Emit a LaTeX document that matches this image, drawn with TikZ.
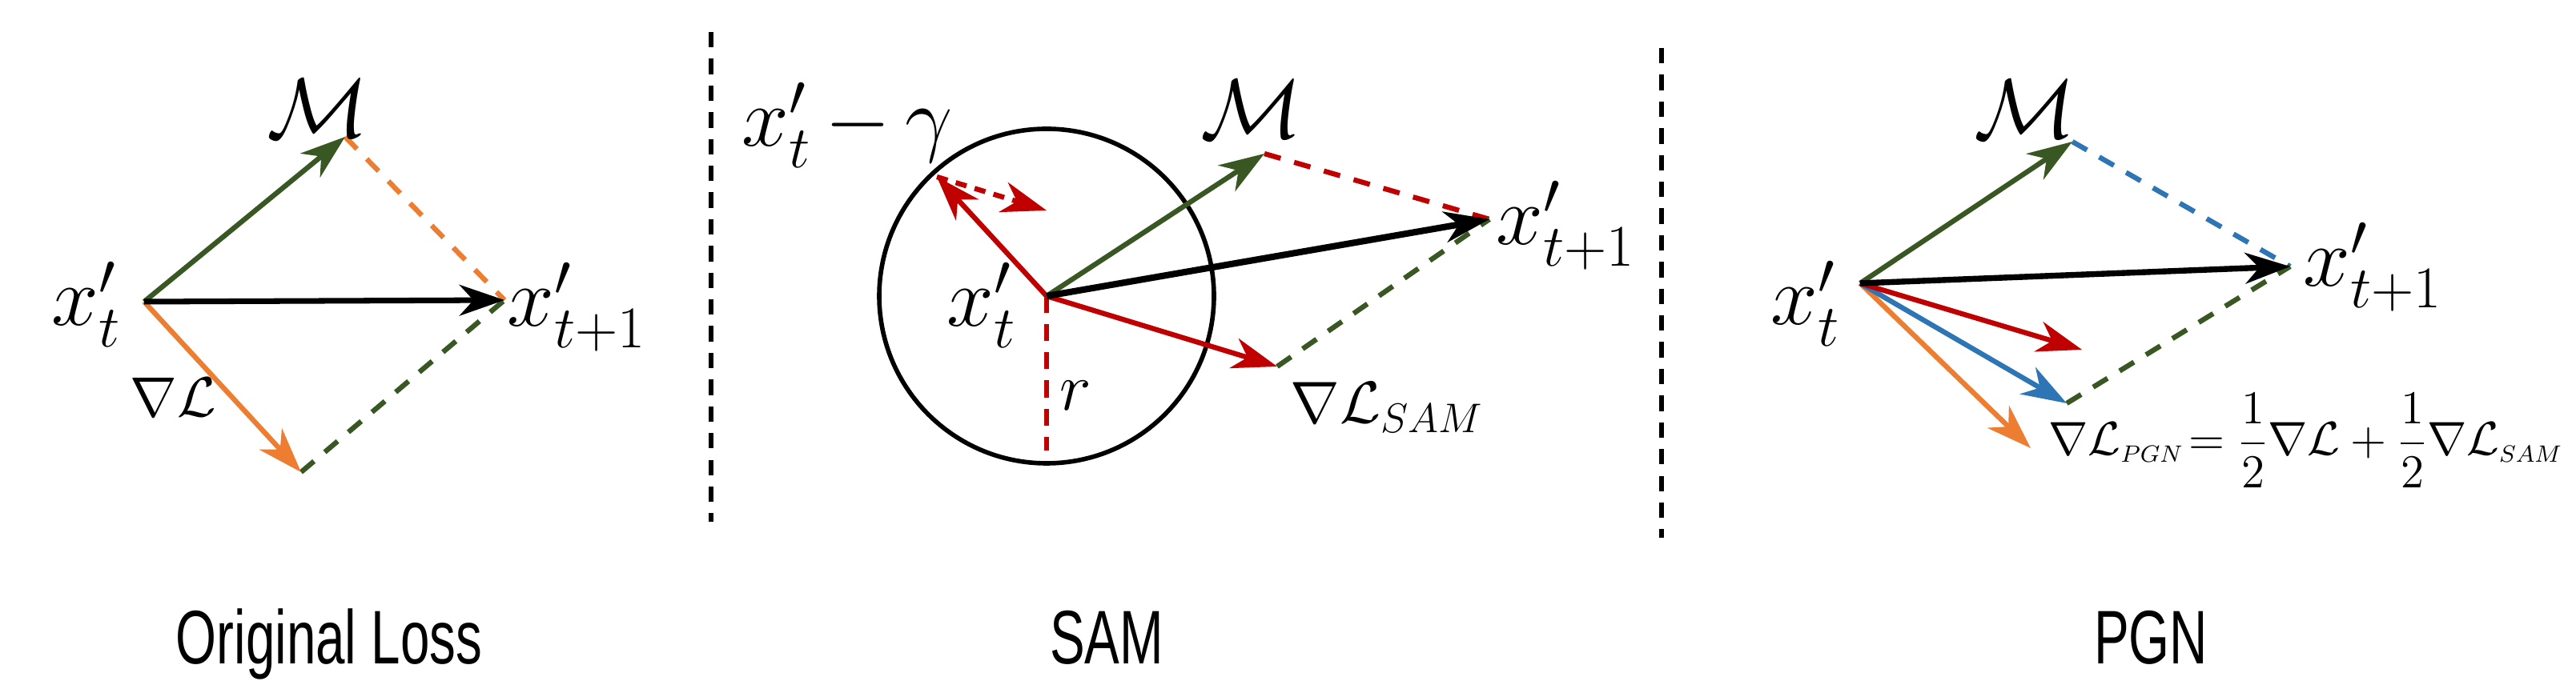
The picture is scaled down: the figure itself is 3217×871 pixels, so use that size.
\RequirePackage{fix-cm}
\documentclass[tikz,border=0pt]{standalone}
\usepackage{amsmath}
\usepackage{fontspec}
\newfontfamily\handfont{Liberation Sans}
\usetikzlibrary{arrows.meta}
\definecolor{vgreen}{HTML}{385723}
\definecolor{vorange}{HTML}{ED7D31}
\definecolor{vred}{HTML}{C00000}
\definecolor{vblue}{HTML}{2E75B6}
\tikzset{
  vec/.style={line width=1.8pt, -{Stealth[length=16pt,width=11pt,inset=5pt]}},
  guide/.style={line width=1.8pt, dash pattern=on 6pt off 5pt},
  divider/.style={line width=1.9pt, dash pattern=on 5.5pt off 4pt},
  lbl/.style={inner sep=0pt, anchor=base west, font=\fontsize{30}{36}\selectfont},
  paneltitle/.style={inner sep=0pt, anchor=base, font=\fontsize{27}{30}\selectfont\handfont},
}
\begin{document}
\begin{tikzpicture}[x=0.01cm,y=-0.01cm]
    \useasboundingbox (0,0) rectangle (3217,871);

    % original loss
    \coordinate (o1) at (180,377);
    \coordinate (m1) at (431,171);
    \coordinate (n1) at (630,375);
    \coordinate (g1) at (376,590);
    \draw[guide, vorange] (m1) -- (n1);
    \draw[guide, vgreen] (g1) -- (n1);
    \draw[vec, vorange] (o1) -- (g1);
    \draw[vec, vgreen] (o1) -- (m1);
    \draw[vec, line width=2pt] (o1) -- (n1);
    \node[lbl] (xa) at (64,407) {$x'_t$};
    \node[lbl] (ma) at (333,172) {$\mathcal{M}$};
    \node[lbl] (na) at (633,408) {$x'_{t+1}$};
    \node[lbl, font=\fontsize{20}{24}\selectfont] (ga) at (162,521) {$\nabla\mathcal{L}$};

    % SAM
    \coordinate (o2) at (1307,370);
    \coordinate (q2) at (1170,221);
    \coordinate (d2) at (1307,263);
    \coordinate (m2) at (1579,192);
    \coordinate (n2) at (1860,274);
    \coordinate (s2) at (1595,458);
    \coordinate (b2) at (1307,563);
    \draw[line width=1.6pt] (o2) circle[radius=209];
    \draw[line width=1.6pt, vred, dash pattern=on 6pt off 4pt] (o2) -- (b2);
    \draw[guide, vred] (m2) -- (n2);
    \draw[guide, vgreen] (s2) -- (n2);
    \draw[vec, vred] (o2) -- (q2);
    \draw[vec, vred, dash pattern=on 4pt off 3pt] (q2) -- (d2);
    \draw[vec, vred] (o2) -- (s2);
    \draw[vec, vgreen] (o2) -- (m2);
    \draw[vec, line width=2.3pt] (o2) -- (n2);
    \node[lbl] (xb) at (1182,408) {$x'_t$};
    \node[lbl] (qb) at (926,183) {$x'_t\,{-}\,\gamma$};
    \node[lbl] (mb) at (1499,173) {$\mathcal{M}$};
    \node[lbl] (nb) at (1868,306) {$x'_{t+1}$};
    \node[lbl, font=\fontsize{21}{25}\selectfont] (sb) at (1611,529) {$\nabla\mathcal{L}_{SAM}$};
    \node[lbl, font=\fontsize{24}{28}\selectfont] (rb) at (1323,513) {$r$};

    % PGN
    \coordinate (o3) at (2323,354);
    \coordinate (m3) at (2588,177);
    \coordinate (n3) at (2860,333);
    \coordinate (r3) at (2600,437);
    \coordinate (b3) at (2581,504);
    \coordinate (g3) at (2536,560);
    \draw[guide, vblue] (m3) -- (n3);
    \draw[guide, vgreen] (b3) -- (n3);
    \draw[vec, vorange] (o3) -- (g3);
    \draw[vec, vblue] (o3) -- (b3);
    \draw[vec, vred] (o3) -- (r3);
    \draw[vec, vgreen] (o3) -- (m3);
    \draw[vec, line width=2.1pt] (o3) -- (n3);
    \node[lbl] (xc) at (2211,406) {$x'_t$};
    \node[lbl] (mc) at (2465,173) {$\mathcal{M}$};
    \node[lbl] (nc) at (2876,358) {$x'_{t+1}$};
    \node[lbl, font=\fontsize{16.8}{20}\selectfont] (fc) at (2558,569)
        {$\nabla\mathcal{L}_{\scriptscriptstyle PGN}\!=\dfrac{1}{2}\nabla\mathcal{L}+\dfrac{1}{2}\nabla\mathcal{L}_{\scriptscriptstyle SAM}$};

    % delici cary
    \coordinate (t1) at (888,40);
    \coordinate (e1) at (888,652);
    \coordinate (t2) at (2075,60);
    \coordinate (e2) at (2075,672);
    \draw[divider] (t1) -- (e1);
    \draw[divider] (t2) -- (e2);

    % popisky
    \node[paneltitle] (ta) at (411,830) {\scalebox{0.69}[1]{Original Loss}};
    \node[paneltitle] (tb) at (1382,830) {\scalebox{0.69}[1]{SAM}};
    \node[paneltitle] (tc) at (2686,830) {\scalebox{0.69}[1]{PGN}};
\end{tikzpicture}
\end{document}
